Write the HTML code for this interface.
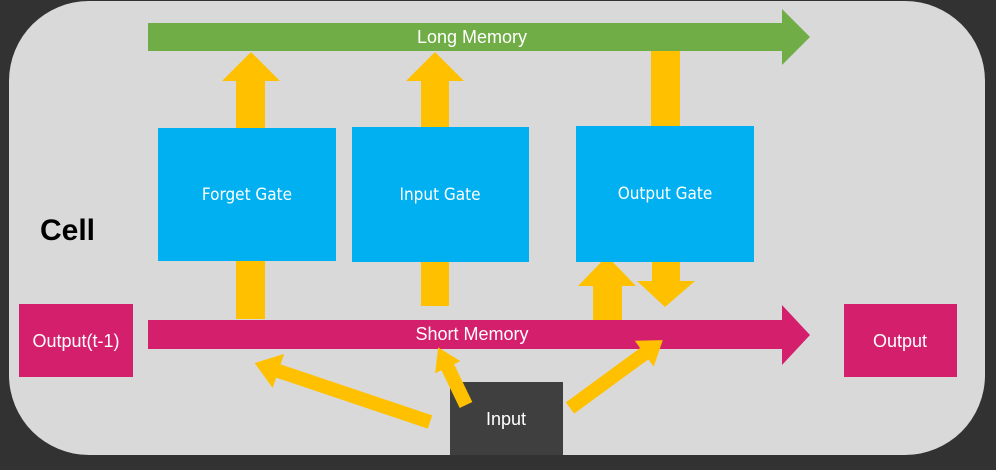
<!DOCTYPE html>
<html><head><style>
body{margin:0;width:996px;height:465px;background:#333;overflow:hidden;font-family:"Liberation Sans",sans-serif}
</style></head><body>
<svg width="996" height="465" xmlns="http://www.w3.org/2000/svg">
<rect x="0" y="0" width="996" height="465" fill="#323232"/>
<rect x="9" y="1" width="976" height="454" rx="80" fill="#d9d9d9"/>
<g fill="#ffc000">
<rect x="236" y="80" width="29" height="50"/><polygon points="222,81 251,52 280,81"/>
<rect x="236" y="260" width="29" height="59"/>
<rect x="421" y="80" width="28" height="50"/><polygon points="406,81 435,52 464,81"/>
<rect x="421" y="260" width="28" height="46"/>
<rect x="651" y="50" width="29" height="78"/>
<rect x="593" y="285" width="29" height="38"/><polygon points="578,286 607,256 636,286"/>
<rect x="652" y="260" width="28" height="22"/><polygon points="637,281 695,281 665,307"/>
</g>
<polygon points="148,23 782,23 782,9 810,37 782,65 782,51 148,51" fill="#70ad47"/>
<text x="472" y="43" font-size="18" fill="#fff" text-anchor="middle">Long Memory</text>
<polygon points="148,320 782,320 782,305 810,335 782,365 782,349 148,349" fill="#d41f6d"/>
<text x="472" y="340" font-size="18" fill="#fff" text-anchor="middle">Short Memory</text>
<g fill="#00b0f0">
<rect x="158" y="128" width="178" height="133"/>
<rect x="352" y="127" width="177" height="135"/>
<rect x="576" y="126" width="178" height="136"/>
</g>
<g fill="#fff" font-size="17" text-anchor="middle" font-family="'DejaVu Sans Condensed','Liberation Sans',sans-serif">
<text x="247" y="200">Forget Gate</text>
<text x="440" y="200">Input Gate</text>
<text x="665" y="199">Output Gate</text>
</g>
<text x="40" y="240" font-size="30" font-weight="bold" fill="#000">Cell</text>
<rect x="19" y="304" width="114" height="73" fill="#d41f6d"/>
<text x="76" y="347" font-size="18" fill="#fff" text-anchor="middle">Output(t-1)</text>
<rect x="844" y="304" width="113" height="73" fill="#d41f6d"/>
<text x="900" y="347" font-size="18" fill="#fff" text-anchor="middle">Output</text>
<rect x="450" y="382" width="113" height="73" fill="#3f3f3f"/>
<text x="506" y="425" font-size="18" fill="#fff" text-anchor="middle">Input</text>
<g fill="#ffc000">
<polygon transform="translate(430,422) rotate(198.6)" points="0,-7 160,-7 160,-18 185,0 160,18 160,7 0,7"/>
<polygon transform="translate(466,405) rotate(244.2)" points="0,-7 42,-7 42,-14 64,0 42,14 42,7 0,7"/>
<polygon transform="translate(570,408) rotate(-36.2)" points="0,-7 92,-7 92,-16 115,0 92,16 92,7 0,7"/>
</g>
</svg>
</body></html>
